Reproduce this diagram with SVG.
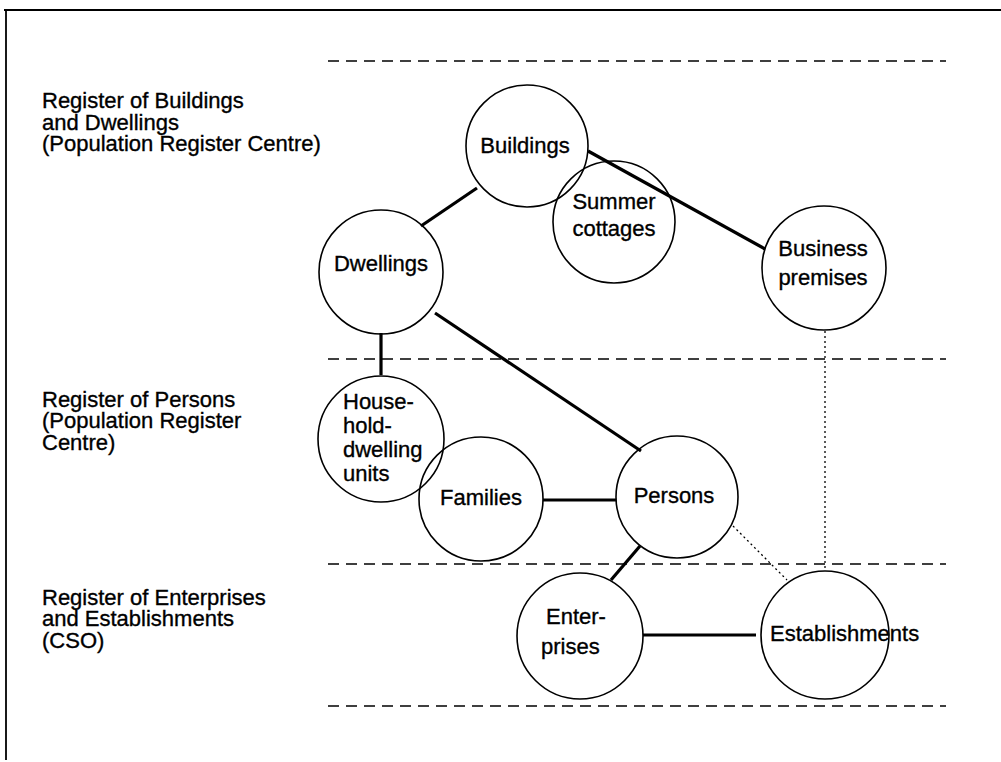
<svg xmlns="http://www.w3.org/2000/svg" width="1001" height="762" viewBox="0 0 1001 762">
<style>
text{font-family:"Liberation Sans",Arial,sans-serif;font-size:22px;fill:#000;stroke:#000;stroke-width:0.35}
.c{text-anchor:middle}
.node circle{fill:none;stroke:#000;stroke-width:1.6}
.dash{stroke:#000;stroke-width:1.6;stroke-dasharray:11 7;fill:none}
.thick{stroke:#000;stroke-width:3.2;fill:none}
.dot{stroke:#000;stroke-width:1.3;stroke-dasharray:2 3;fill:none}
</style>
<rect width="1001" height="762" fill="#fff"/>
<g id="frame">
<line x1="4" y1="10" x2="1001" y2="10" stroke="#000" stroke-width="1.8"/>
<line x1="6" y1="10" x2="6" y2="760" stroke="#000" stroke-width="1.8"/>
</g>
<g id="bands">
<line class="dash" x1="328" y1="61" x2="946" y2="61"/>
<line class="dash" x1="328" y1="359" x2="946" y2="359"/>
<line class="dash" x1="328" y1="564" x2="946" y2="564"/>
<line class="dash" x1="328" y1="706" x2="946" y2="706"/>
</g>
<g id="labels">
<text x="42" y="108">Register of Buildings</text>
<text x="42" y="130">and Dwellings</text>
<text x="42" y="151">(Population Register Centre)</text>
<text x="42" y="407">Register of Persons</text>
<text x="42" y="428">(Population Register</text>
<text x="42" y="450">Centre)</text>
<text x="42" y="605">Register of Enterprises</text>
<text x="42" y="626">and Establishments</text>
<text x="42" y="648">(CSO)</text>
</g>
<g id="connectors">
<line class="thick" x1="477" y1="188" x2="421" y2="226"/>
<line class="thick" x1="588" y1="151" x2="765" y2="249"/>
<line class="thick" x1="435" y1="313" x2="641" y2="451"/>
<line class="thick" x1="381" y1="333" x2="381" y2="375"/>
<line class="thick" x1="543" y1="500" x2="616" y2="500"/>
<line class="thick" x1="640" y1="546" x2="611" y2="580"/>
<line class="thick" x1="643" y1="635" x2="756" y2="635"/>
<line class="dot" x1="825" y1="331" x2="825" y2="569"/>
<line class="dot" x1="733" y1="526" x2="787" y2="580"/>
</g>
<g id="buildings" class="node"><circle cx="527" cy="146" r="61"/><text class="c" x="525" y="153">Buildings</text></g>
<g id="summer-cottages" class="node"><circle cx="614" cy="222" r="61"/><text class="c" x="614" y="209">Summer</text><text class="c" x="614" y="236">cottages</text></g>
<g id="dwellings" class="node"><circle cx="381" cy="272" r="62"/><text class="c" x="381" y="271">Dwellings</text></g>
<g id="business-premises" class="node"><circle cx="824" cy="268" r="62"/><text class="c" x="823" y="256">Business</text><text class="c" x="823" y="285">premises</text></g>
<g id="household-dwelling-units" class="node"><circle cx="381" cy="439" r="63"/><text x="343" y="409">House-</text><text x="343" y="433">hold-</text><text x="343" y="457">dwelling</text><text x="343" y="481">units</text></g>
<g id="families" class="node"><circle cx="481" cy="499" r="62"/><text class="c" x="481" y="505">Families</text></g>
<g id="persons" class="node"><circle cx="677" cy="497" r="61"/><text class="c" x="674" y="503">Persons</text></g>
<g id="enterprises" class="node"><circle cx="580" cy="636" r="63"/><text x="546" y="624">Enter-</text><text x="541" y="654">prises</text></g>
<g id="establishments" class="node"><circle cx="825" cy="635" r="64"/><text x="770" y="641">Establishments</text></g>
</svg>
